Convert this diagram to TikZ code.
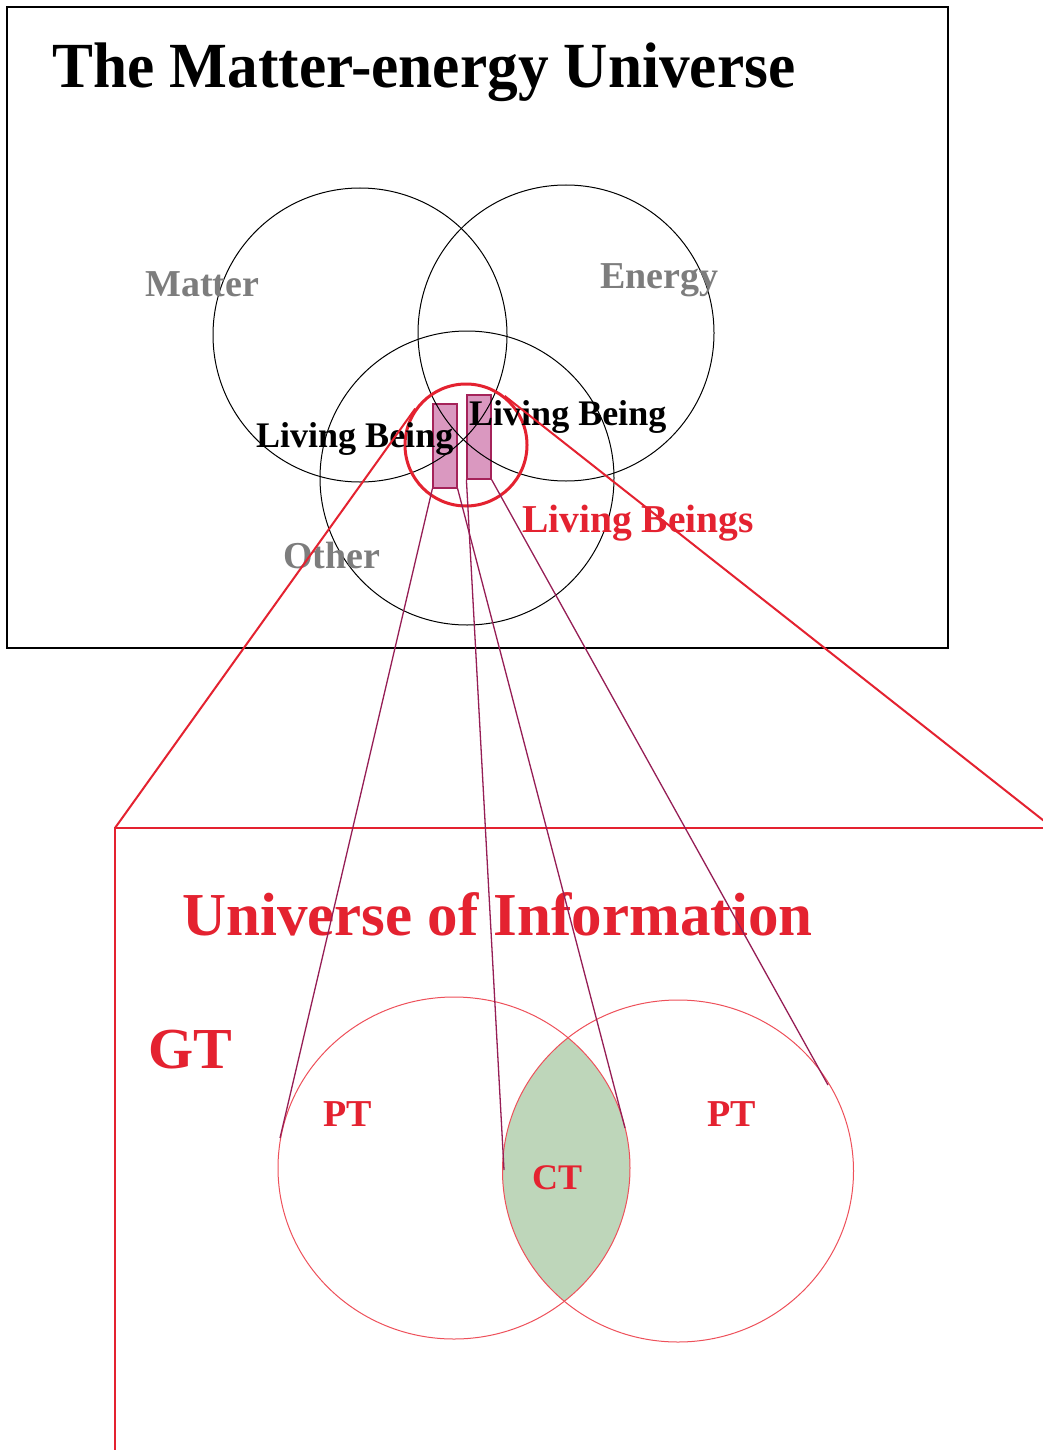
\documentclass[tikz,border=0pt]{standalone}
\usepackage{fontspec}
\setmainfont{Liberation Serif}
\usetikzlibrary{calc}
\definecolor{mred}{RGB}{228,34,48}
\definecolor{lred}{RGB}{238,80,90}
\definecolor{mgray}{RGB}{125,125,125}
\definecolor{pinkf}{RGB}{218,152,192}
\definecolor{pinkd}{RGB}{165,35,90}
\definecolor{purp}{RGB}{150,30,85}
\definecolor{lensf}{RGB}{190,214,186}
\begin{document}
\begin{tikzpicture}[x=1pt,y=-1pt,
  lbl/.style={inner sep=0pt, anchor=base west},
  fs/.style={font={\fontsize{#1}{#1}\selectfont\bfseries}},
  bcirc/.style={circle, draw=black, line width=1pt, inner sep=0pt, minimum size=#1},
  lbrect/.style={rectangle, draw=pinkd, fill=pinkf, line width=1.2pt, inner sep=0pt, minimum width=24pt, minimum height=84pt},
  pline/.style={draw=purp, line width=1.3pt},
  tline/.style={draw=mred, line width=2pt},
  boxline/.style={draw=mred, line width=1.5pt},
  ecirc/.style={draw=lred, line width=1pt}]
\useasboundingbox (0,0) rectangle (1043,1450);
\clip (0,0) rectangle (1043,1450);
\fill[white] (0,0) rectangle (1043,1450);
% top box
\node[draw=black, line width=1.5pt, rectangle, inner sep=0pt, minimum width=941pt, minimum height=641pt] (mebox) at (477.5,327.5) {};
\node[lbl, fs=61.3, yscale=1.05] (title) at (52,88) {The Matter-energy Universe};
% living-being rectangles
\node[lbrect] (ra) at (445,446) {};
\node[lbrect] (rb) at (479,437) {};
% black circles
\node[bcirc=294pt] (cmatter) at (360,335) {};
\node[bcirc=296pt] (cenergy) at (566,333) {};
\node[bcirc=294pt] (cother) at (467,478) {};
% red circle
\node[circle, draw=mred, line width=3pt, inner sep=0pt, minimum size=122pt] (lb) at (466,445) {};
% labels
\node[lbl, fs=38, text=mgray] (tmatter) at (145,296) {Matter};
\node[lbl, fs=38, text=mgray] (tenergy) at (600,288) {Energy};
\node[lbl, fs=38, text=mgray] (tother) at (283,568) {Other};
\node[lbl, fs=36, text=black] (tlb1) at (256,447) {Living Being};
\node[lbl, fs=36, text=black] (tlb2) at (469,425) {Living Being};
\node[lbl, fs=39.5, text=mred] (tlbs) at (522,532) {Living Beings};
% bottom box
\coordinate (gtl) at (115,828);
\coordinate (gtr) at (1053,828);
\coordinate (gbl) at (115,1470);
\draw[boxline] (gtr) -- (gtl) -- (gbl);
\draw[tline] (gtl) -- (tangent cs:node=lb, point={(gtl)}, solution=2);
\draw[tline] (gtr) -- (tangent cs:node=lb, point={(gtr)}, solution=1);
% information universe
\node[lbl, fs=61, text=mred] (tuoi) at (182,935) {Universe of Information};
\node[lbl, fs=58, text=mred] (tgt) at (148,1068) {GT};
\begin{scope}
  \clip (454,1168) ellipse [x radius=176, y radius=171];
  \fill[lensf] (678,1171) ellipse [x radius=175.5, y radius=171];
\end{scope}
\draw[ecirc] (454,1168) ellipse [x radius=176, y radius=171];
\draw[ecirc] (678,1171) ellipse [x radius=175.5, y radius=171];
\node[lbl, fs=38, text=mred] (tpt1) at (323,1126) {PT};
\node[lbl, fs=38, text=mred] (tpt2) at (707,1126) {PT};
\node[lbl, fs=36, text=mred] (tct) at (532,1189) {CT};
% connectors from rectangles
\coordinate (e1) at (280,1138);
\coordinate (e2) at (504,1170);
\coordinate (e3) at (625,1128);
\coordinate (e4) at (828,1085);
\draw[pline] (ra.south west) -- (e1);
\draw[pline] (ra.south east) -- (e3);
\draw[pline] (rb.south west) -- (e2);
\draw[pline] (rb.south east) -- (e4);
\end{tikzpicture}
\end{document}
